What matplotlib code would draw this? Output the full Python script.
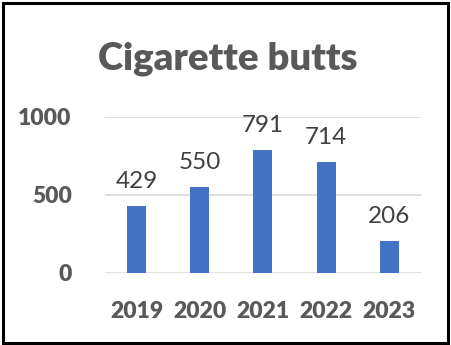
import matplotlib.pyplot as plt
from matplotlib.patches import Rectangle

# Cigarette butts collected per year
years = ["2019", "2020", "2021", "2022", "2023"]
counts = [429, 550, 791, 714, 206]
y_ticks = [0, 500, 1000]

plt.rcParams["font.family"] = ["Lato", "DejaVu Sans"]
text_grey = "#595959"

fig = plt.figure(figsize=(4.51, 3.45), dpi=100)
ax = fig.add_axes([0.233, 0.2087, 0.70, 0.4522])

x = range(len(years))
bars = ax.bar(x, counts, width=0.3, color="#4472C4", zorder=3)
ax.set_xlim(-0.5, len(years) - 0.5)
ax.set_ylim(0, 1000)
ax.set_yticks(y_ticks)
ax.set_xticks(list(x))
ax.set_xticklabels(years)

ax.grid(axis="y", color="#d9d9d9", linewidth=1.2, zorder=0)
ax.set_axisbelow(True)
for s in ax.spines.values():
    s.set_visible(False)
ax.tick_params(length=0, colors=text_grey, labelsize=16.5)
ax.tick_params(axis="y", pad=24)
ax.tick_params(axis="x", pad=20)
for lbl in ax.get_xticklabels() + ax.get_yticklabels():
    lbl.set_fontweight("heavy")

# value labels above each bar
for xi, v in zip(x, counts):
    ax.annotate(str(v), (xi, v), xytext=(0, 10), textcoords="offset points",
                ha="center", va="bottom", fontsize=17.5, color="#404040",
                annotation_clip=False)

fig.text(0.505, 0.83, "Cigarette butts", ha="center", va="center",
         fontsize=27.5, fontweight="heavy", color=text_grey)

# outer frame
fig.patches.append(Rectangle((0.006, 0.006), 0.988, 0.985, transform=fig.transFigure,
                             fill=False, edgecolor="black", linewidth=2.2))

fig.savefig("out.png", dpi=100)
